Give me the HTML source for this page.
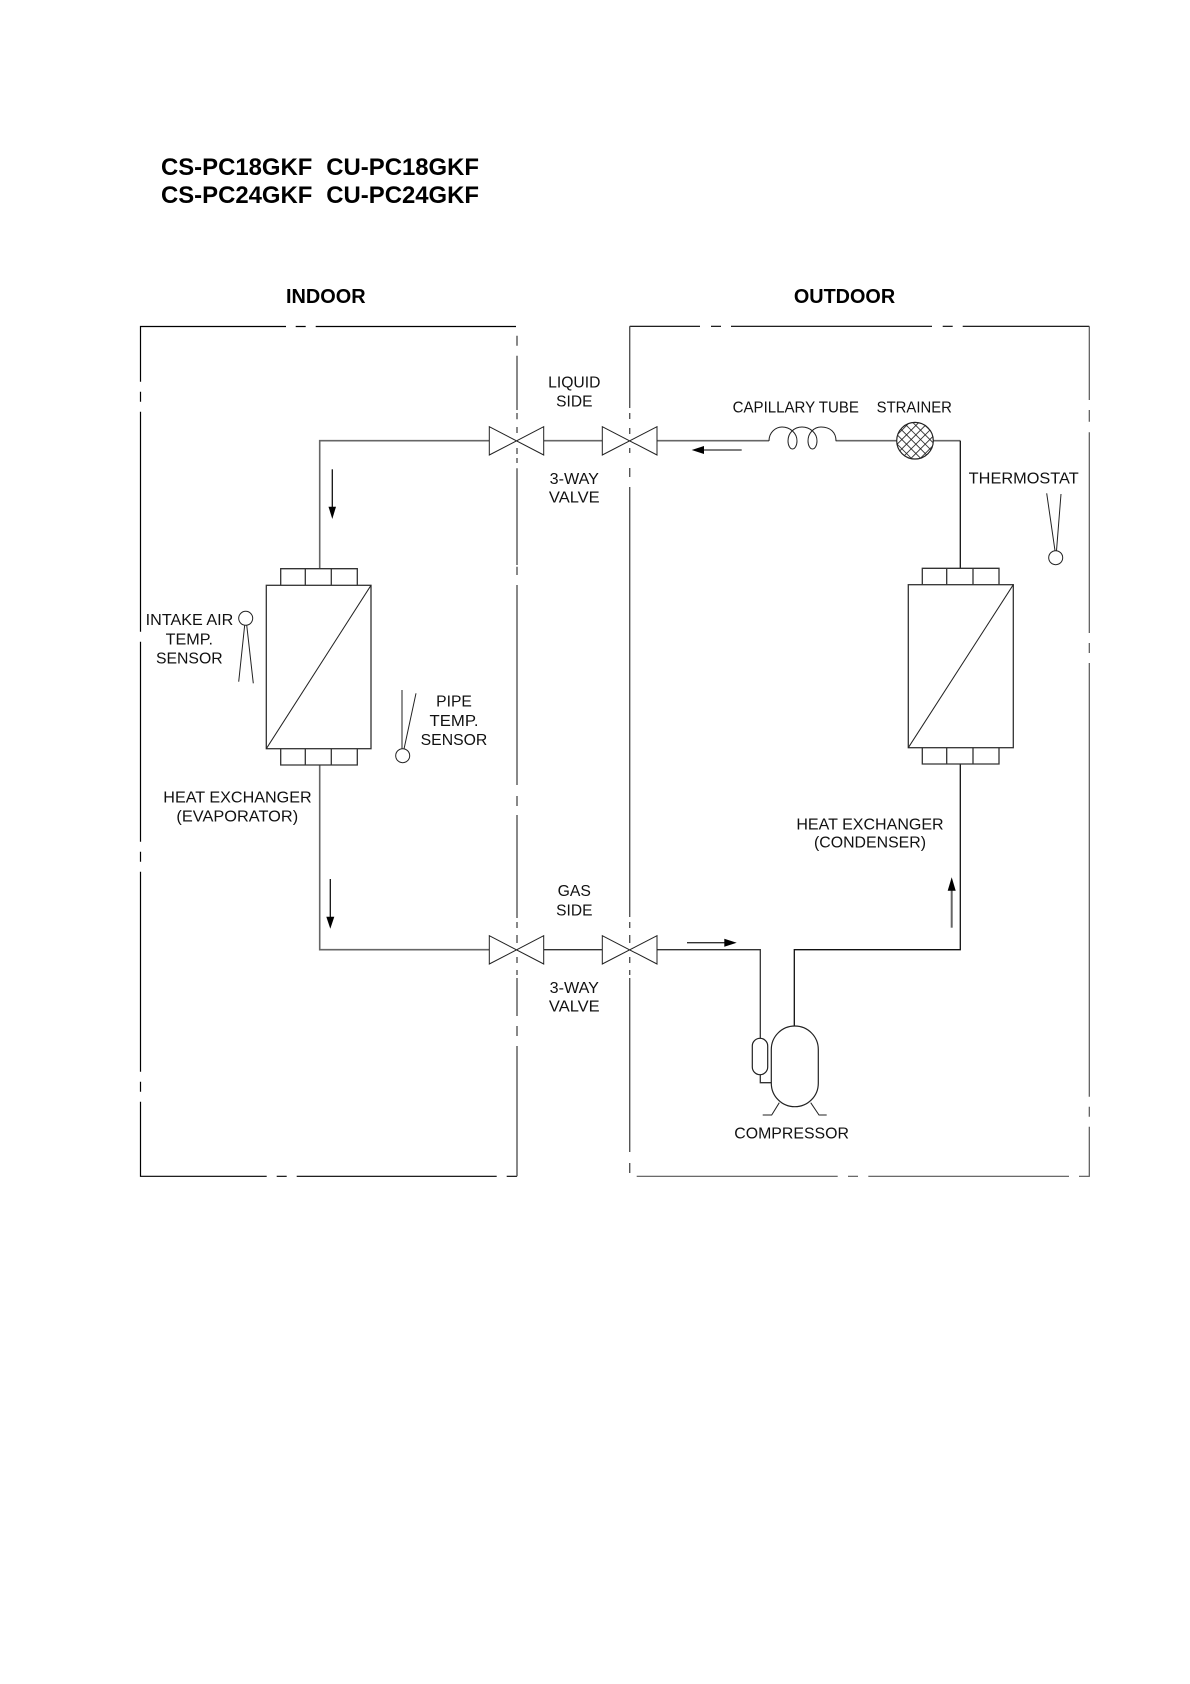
<!DOCTYPE html>
<html>
<head>
<meta charset="utf-8">
<style>
html,body{margin:0;padding:0;background:#fff;}
svg{display:block;}
text{font-family:"Liberation Sans",Arial,sans-serif;fill:#111;}
.b{font-weight:bold;fill:#000;}
.t{font-size:16px;}
.box{stroke:#000;stroke-width:1.2;fill:none;}
.boxg{stroke:#555;stroke-width:1.4;fill:none;}
.p{stroke:#333;stroke-width:1.3;fill:none;}
.pg{stroke:#666;stroke-width:1.6;fill:none;}
.s{stroke:#222;stroke-width:1;fill:none;}
</style>
</head>
<body>
<svg width="1190" height="1684" viewBox="0 0 1190 1684" xmlns="http://www.w3.org/2000/svg">
<defs>
<pattern id="hatch" width="6.6" height="6.6" patternUnits="userSpaceOnUse" patternTransform="rotate(45 915 441)">
<rect width="6.6" height="6.6" fill="#fff"/>
<path d="M0 0H6.6M0 0V6.6" stroke="#222" stroke-width="1.7"/>
</pattern>
</defs>

<text class="b" x="161" y="175" font-size="24" textLength="151.3" lengthAdjust="spacingAndGlyphs">CS-PC18GKF</text>
<text class="b" x="326.3" y="175" font-size="24" textLength="152.7" lengthAdjust="spacingAndGlyphs">CU-PC18GKF</text>
<text class="b" x="161" y="203" font-size="24" textLength="151.3" lengthAdjust="spacingAndGlyphs">CS-PC24GKF</text>
<text class="b" x="326.3" y="203" font-size="24" textLength="152.7" lengthAdjust="spacingAndGlyphs">CU-PC24GKF</text>
<text class="b" x="325.8" y="303" font-size="20" text-anchor="middle" textLength="79.6" lengthAdjust="spacingAndGlyphs">INDOOR</text>
<text class="b" x="844.5" y="303" font-size="20" text-anchor="middle" textLength="101.3" lengthAdjust="spacingAndGlyphs">OUTDOOR</text>

<!-- Indoor boundary -->
<path class="box" d="M286 326.5H140.5V381.7M140.5 391.7V401.7M140.5 411.7V631.7M140.5 641.7V841.7M140.5 851.7V861.7M140.5 871.7V1071.7M140.5 1081.7V1091.7M140.5 1101.7V1176.3H266.7M276.7 1176.3H286.7M296.7 1176.3H496.7M506.7 1176.3H517M295.7 326.5H305.7M315.7 326.5H516"/>
<path class="boxg" d="M517 335.7V345.7M517 355.7V410M517 413V419.3M517 427V433M517 448V454M517 458V463M517 468.3V565M517 566.7V575M517 585V785M517 796V806M517 815V918M517 922V928M517 935V943M517 957V963M517 970V975M517 978V1016M517 1026V1036M517 1046V1176.3"/>

<!-- Outdoor boundary -->
<path class="box" d="M700 326.3H629.7M711 326.3H721M731 326.3H932M942.7 326.3H952.7M962.7 326.3H1089.3"/>
<path class="boxg" d="M629.7 326.3V408M629.7 413V419M629.7 428V434M629.7 448V453M629.7 468V477M629.7 487V917M629.7 922V928M629.7 935V943M629.7 957V963M629.7 970V975M629.7 978V1152M629.7 1163V1173"/>
<path class="boxg" style="stroke-width:1.2" d="M636.7 1176.3H837.7M848 1176.3H858M868.3 1176.3H1069M1079 1176.3H1089.3V1126.7M1089.3 1116.7V1106.7M1089.3 1096.7V663M1089.3 653V643M1089.3 633V432.3M1089.3 421.7V410M1089.3 400V326.3"/>

<!-- Liquid line -->
<path class="pg" d="M319.7 568.7V440.7H489.3M543.7 440.7H602.3M657 440.7H769"/>
<path class="pg" d="M835.7 440.7H897M933 440.7H960.3"/>
<path class="p" style="stroke:#111" d="M960.3 440.7V568.3"/>

<!-- Gas line -->
<path class="pg" d="M319.7 765V949.7H489.3"/>
<path class="p" d="M543.7 949.7H602.3M657 949.7H760.3V1038.3"/>
<path class="p" d="M760.3 1074.7V1082.7H771.3"/>
<path class="p" style="stroke:#111" d="M794.3 1026V949.7H960.3V764"/>

<!-- Valves -->
<path class="s" d="M489.3 426.7V455L543.7 426.7V455Z"/>
<path class="s" d="M602.3 426.7V455L657 426.7V455Z"/>
<path class="s" d="M489.3 935.7V964L543.7 935.7V964Z"/>
<path class="s" d="M602.3 935.7V964L657 935.7V964Z"/>

<!-- Capillary coil -->
<path class="s" d="M769 441C769 432 776 427 782 427C790 427 797 433 797 441A4.5 8 0 0 1 788 441C788 433 794 427 802 427C810 427 817 433 817 441A4.5 8 0 0 1 808 441C808 433 814 427 821 427C830 427 836 432 836 441"/>

<!-- Strainer -->
<circle cx="915" cy="440.7" r="18.3" fill="url(#hatch)" stroke="#222" stroke-width="1.2"/>

<!-- Flow arrows -->
<path class="s" style="stroke:#333;stroke-width:1.3" d="M741.7 450H700"/>
<path d="M691.7 450L704 446V454Z" fill="#000"/>
<path class="s" style="stroke:#111;stroke-width:1.3" d="M332.3 469.3V510"/>
<path d="M332.3 519L328.5 506.7H336Z" fill="#000"/>
<path class="s" style="stroke:#111;stroke-width:1.3" d="M330.3 879V920"/>
<path d="M330.3 928.7L326.3 916.7H334.3Z" fill="#000"/>
<path class="s" style="stroke:#333;stroke-width:1.3" d="M687 942.7H728"/>
<path d="M736.7 942.7L724.3 938.7V946.7Z" fill="#000"/>
<path class="pg" style="stroke-width:2" d="M951.7 927.7V888"/>
<path d="M951.7 877.3L947.7 890.7H955.7Z" fill="#000"/>

<!-- Left heat exchanger -->
<rect class="p" x="266.3" y="585.3" width="104.7" height="163.4"/>
<path class="s" d="M266.3 748.7L371 585.3"/>
<path class="p" d="M280.7 585.3V568.7H357.3V585.3M305.3 568.7V585.3M331.3 568.7V585.3"/>
<path class="p" d="M280.7 748.7V765H357.3V748.7M305.3 748.7V765M331.3 748.7V765"/>

<!-- Right heat exchanger -->
<rect class="p" x="908.3" y="584.7" width="105" height="163"/>
<path class="s" d="M908.3 747.7L1013.3 584.7"/>
<path class="p" d="M922.3 584.7V568.3H999V584.7M946.7 568.3V584.7M973 568.3V584.7"/>
<path class="p" d="M922.3 747.7V764H999V747.7M946.7 747.7V764M973 747.7V764"/>

<!-- Sensors -->
<circle class="s" cx="245.7" cy="618.3" r="7"/>
<path class="s" d="M244.7 625L238.7 681.7M246.7 625L253.3 683.3"/>
<circle class="s" cx="402.7" cy="755.7" r="7"/>
<path class="s" d="M402 749L402 690M404 749L416 693.3"/>
<circle class="s" cx="1055.7" cy="557.7" r="7"/>
<path class="s" d="M1055 550.7L1046.7 493.3M1056.5 550.7L1061 494"/>

<!-- Compressor -->
<rect class="s" style="stroke-width:1.2" x="771.3" y="1026" width="47" height="80.7" rx="23.5" ry="23.5"/>
<rect class="s" style="stroke-width:1.2" x="752.3" y="1038.3" width="15.4" height="36.4" rx="7.7" ry="7.7"/>
<path class="s" d="M779.3 1102.7L771.7 1115H762.7M810.7 1102.7L819 1115H826.7"/>

<!-- Labels -->
<g lengthAdjust="spacingAndGlyphs">
<text class="t" x="574.3" y="387.3" text-anchor="middle" textLength="52.3" lengthAdjust="spacingAndGlyphs">LIQUID</text>
<text class="t" x="574.3" y="406.7" text-anchor="middle" textLength="36.3" lengthAdjust="spacingAndGlyphs">SIDE</text>
<text class="t" x="574.3" y="484" text-anchor="middle" textLength="49.3" lengthAdjust="spacingAndGlyphs">3-WAY</text>
<text class="t" x="574.3" y="502.7" text-anchor="middle" textLength="50.7" lengthAdjust="spacingAndGlyphs">VALVE</text>
<text class="t" x="574.3" y="896" text-anchor="middle" textLength="33.3" lengthAdjust="spacingAndGlyphs">GAS</text>
<text class="t" x="574.3" y="915.3" text-anchor="middle" textLength="36.3" lengthAdjust="spacingAndGlyphs">SIDE</text>
<text class="t" x="574.3" y="993" text-anchor="middle" textLength="49.3" lengthAdjust="spacingAndGlyphs">3-WAY</text>
<text class="t" x="574.3" y="1011.7" text-anchor="middle" textLength="50.7" lengthAdjust="spacingAndGlyphs">VALVE</text>
<text class="t" x="795.8" y="412.7" text-anchor="middle" textLength="126.3" lengthAdjust="spacingAndGlyphs">CAPILLARY TUBE</text>
<text class="t" x="914.3" y="412.7" text-anchor="middle" textLength="75.3" lengthAdjust="spacingAndGlyphs">STRAINER</text>
<text class="t" x="1023.7" y="483.7" text-anchor="middle" textLength="110" lengthAdjust="spacingAndGlyphs">THERMOSTAT</text>
<text class="t" x="189.5" y="625" text-anchor="middle" textLength="87.6" lengthAdjust="spacingAndGlyphs">INTAKE AIR</text>
<text class="t" x="189.3" y="644.3" text-anchor="middle" textLength="47.3" lengthAdjust="spacingAndGlyphs">TEMP.</text>
<text class="t" x="189.3" y="663.7" text-anchor="middle" textLength="66.7" lengthAdjust="spacingAndGlyphs">SENSOR</text>
<text class="t" x="454" y="706.7" text-anchor="middle" textLength="35.7" lengthAdjust="spacingAndGlyphs">PIPE</text>
<text class="t" x="454" y="726" text-anchor="middle" textLength="49" lengthAdjust="spacingAndGlyphs">TEMP.</text>
<text class="t" x="454" y="745" text-anchor="middle" textLength="66.7" lengthAdjust="spacingAndGlyphs">SENSOR</text>
<text class="t" x="237.5" y="802.7" text-anchor="middle" textLength="148.4" lengthAdjust="spacingAndGlyphs">HEAT EXCHANGER</text>
<text class="t" x="237.3" y="821.7" text-anchor="middle" textLength="121.7" lengthAdjust="spacingAndGlyphs">(EVAPORATOR)</text>
<text class="t" x="870" y="829.3" text-anchor="middle" textLength="147.3" lengthAdjust="spacingAndGlyphs">HEAT EXCHANGER</text>
<text class="t" x="870" y="847.7" text-anchor="middle" textLength="112" lengthAdjust="spacingAndGlyphs">(CONDENSER)</text>
<text class="t" x="791.6" y="1138.7" text-anchor="middle" textLength="114.7" lengthAdjust="spacingAndGlyphs">COMPRESSOR</text>
</g>
</svg>
</body>
</html>
